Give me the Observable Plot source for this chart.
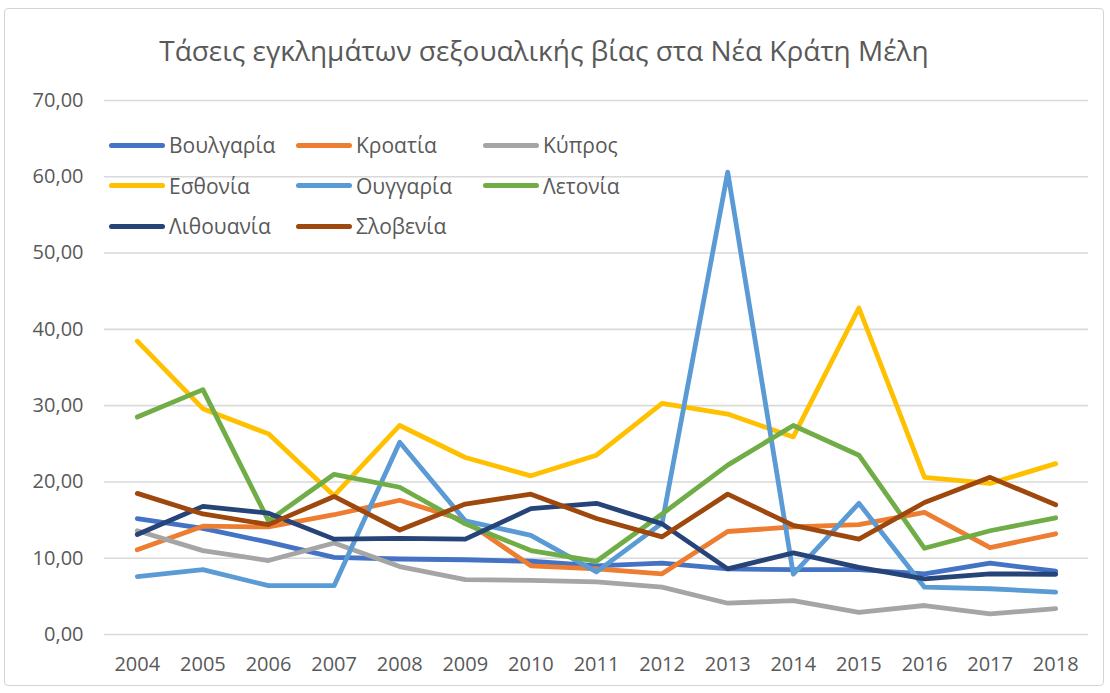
<!DOCTYPE html>
<html>
<head>
<meta charset="utf-8">
<script src="https://cdn.jsdelivr.net/npm/d3@7"></script>
<script src="https://cdn.jsdelivr.net/npm/@observablehq/plot@0.6"></script>
<style>
  html, body { margin: 0; padding: 0; background: #fff; }
  #wrap { position: relative; width: 1110px; height: 693px; overflow: hidden; font-family: "Open Sans", sans-serif; }
  #border { position: absolute; left: 4px; top: 8px; width: 1100px; height: 678px; border: 1px solid #d4d4d4; border-radius: 4px; box-sizing: border-box; pointer-events: none; }
  #title { position: absolute; left: 0; width: 1088px; top: 31px; text-align: center; font-size: 28px; color: #595959; line-height: 38px; }
  #legend { position: absolute; left: 109px; top: 125px; display: grid; grid-template-columns: 187px 187px 187px; grid-auto-rows: 40.5px; font-size: 21px; color: #595959; }
  .item { display: flex; align-items: center; }
  .sw { width: 56px; height: 5px; border-radius: 3px; margin-right: 4px; }
</style>
</head>
<body>
<div id="wrap">
  <div id="chart"></div>
  <div id="title">Τάσεις εγκλημάτων σεξουαλικής βίας στα Νέα Κράτη Μέλη</div>
  <div id="legend"></div>
  <div id="border"></div>
</div>
<script>
const years = [2004, 2005, 2006, 2007, 2008, 2009, 2010, 2011, 2012, 2013, 2014, 2015, 2016, 2017, 2018];
const countries = ["Βουλγαρία", "Κροατία", "Κύπρος", "Εσθονία", "Ουγγαρία", "Λετονία", "Λιθουανία", "Σλοβενία"];
const colors = ["#4472C4", "#ED7D31", "#A5A5A5", "#FFC000", "#5B9BD5", "#70AD47", "#264478", "#9E480E"];

const bulgaria  = [15.2, 13.9, 12.1, 10.1, 9.9, 9.8, 9.6, 9.0, 9.35, 8.6, 8.5, 8.5, 7.95, 9.35, 8.3];
const croatia   = [11.1, 14.2, 14.1, 15.7, 17.6, 14.9, 9.0, 8.6, 7.95, 13.5, 14.1, 14.4, 16.0, 11.4, 13.2];
const cyprus    = [13.6, 11.0, 9.7, 12.0, 8.9, 7.2, 7.1, 6.9, 6.2, 4.1, 4.45, 2.9, 3.8, 2.7, 3.4];
const estonia   = [38.45, 29.6, 26.3, 18.2, 27.4, 23.2, 20.8, 23.5, 30.3, 28.9, 25.9, 42.8, 20.6, 19.8, 22.4];
const hungary   = [7.6, 8.5, 6.4, 6.4, 25.2, 14.9, 13.0, 8.2, 14.6, 60.6, 7.9, 17.2, 6.2, 6.0, 5.55];
const latvia    = [28.5, 32.1, 14.9, 21.0, 19.3, 14.5, 11.0, 9.6, 15.8, 22.2, 27.4, 23.5, 11.3, 13.6, 15.3];
const lithuania = [13.1, 16.8, 15.9, 12.5, 12.6, 12.5, 16.5, 17.2, 14.5, 8.6, 10.7, 8.8, 7.3, 7.95, 7.9];
const slovenia  = [18.5, 15.8, 14.4, 18.1, 13.7, 17.1, 18.4, 15.2, 12.8, 18.4, 14.3, 12.5, 17.3, 20.6, 17.0];

const seriesValues = [bulgaria, croatia, cyprus, estonia, hungary, latvia, lithuania, slovenia];
const yTicks = [0, 10, 20, 30, 40, 50, 60, 70];

const data = countries.flatMap((c, i) => years.map((yr, j) => ({country: c, year: yr, value: seriesValues[i][j]})));
const fmt = d => d.toFixed(2).replace(".", ",");

const chart = Plot.plot({
  width: 1110,
  height: 693,
  marginLeft: 104,
  marginRight: 22,
  marginTop: 100,
  marginBottom: 59,
  style: {fontFamily: "'Open Sans', sans-serif", background: "transparent", color: "#595959"},
  x: {type: "linear", domain: [2003.5, 2018.5]},
  y: {domain: [0, 70]},
  color: {domain: countries, range: colors},
  marks: [
    Plot.gridY(yTicks, {stroke: "#d9d9d9", strokeOpacity: 1, strokeWidth: 1.6}),
    Plot.axisY(yTicks, {tickSize: 0, tickPadding: 21, tickFormat: fmt, fontSize: 20, fill: "#595959", label: null}),
    Plot.axisX(years, {tickSize: 0, tickPadding: 22, tickFormat: d => String(d), fontSize: 20, fill: "#595959", label: null}),
    Plot.lineY(data, {x: "year", y: "value", z: "country", stroke: "country", strokeWidth: 4.8, strokeLinejoin: "round", strokeLinecap: "round"})
  ]
});
document.getElementById("chart").appendChild(chart);

const legend = document.getElementById("legend");
countries.forEach((c, i) => {
  const item = document.createElement("div");
  item.className = "item";
  const sw = document.createElement("div");
  sw.className = "sw";
  sw.style.background = colors[i];
  const t = document.createElement("span");
  t.textContent = c;
  item.appendChild(sw);
  item.appendChild(t);
  legend.appendChild(item);
});
</script>
</body>
</html>
